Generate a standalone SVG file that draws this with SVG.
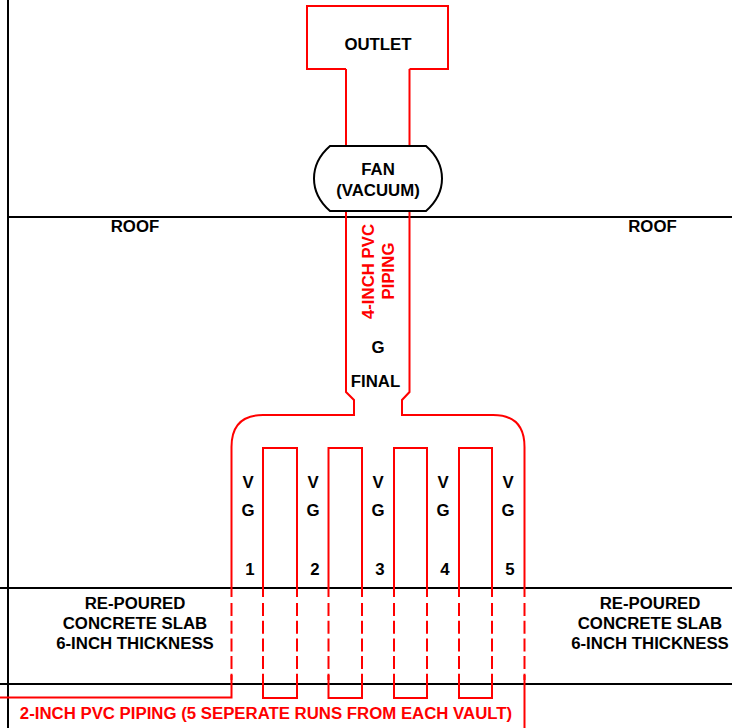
<svg xmlns="http://www.w3.org/2000/svg" width="732" height="728" viewBox="0 0 732 728">
<style>
.k{stroke:#000;stroke-width:2;fill:none}
.r{stroke:#f00;stroke-width:2;fill:none}
.d{stroke-dasharray:13 4.7}
text{font-family:"Liberation Sans",Arial,sans-serif;font-weight:700;font-size:16.8px;fill:#000;text-anchor:middle}
.t{fill:#f00}
</style>
<rect width="732" height="728" fill="#fff"/>
<g id="connectors">
<path class="k" d="M8 0V728M8 217H732M0 588H732M0 684H732"/>
<path class="r" d="M346 69V146M409.500 69V146M346 211V392L354 400V415H263Q231.500 415 231.500 447V597M409.500 211V392L402 400V415H493Q524.500 415 524.500 447V597"/>
<path class="r" d="M263 597V448H297V597M328.500 597V448H362V597M394 597V448H427V597M459 597V448H492V597"/>
<path class="r d" d="M231.500 603V680M263 603V680M297 603V680M328.500 603V680M362 603V680M394 603V680M427 603V680M459 603V680M492 603V680M524.500 603V680"/>
<path class="r" d="M0 697.500H231.500V675M263 675V698H297V675M328.500 675V698H362V675M394 675V698H427V675M459 675V698H492V675M524.500 675V728"/>
</g>
<g id="outlet">
<path class="r" d="M346 69H307V6H448V69H409.500"/>
<text x="378" y="50">OUTLET</text>
</g>
<g id="fan">
<path fill="#fff" stroke="#000" stroke-width="2" d="M330 146H426Q442 160 442 178.500Q442 197 426 211H330Q314 197 314 178.500Q314 160 330 146Z"/>
<text x="378" y="175">FAN</text>
<text x="378" y="195.500">(VACUUM)</text>
</g>
<g id="labels">
<text x="135" y="232">ROOF</text>
<text x="652.500" y="232">ROOF</text>
<text class="t" transform="translate(374 271.500) rotate(-90)">4-INCH PVC</text>
<text class="t" transform="translate(394 271) rotate(-90)">PIPING</text>
<text x="378" y="353">G</text>
<text x="375.500" y="386.500">FINAL</text>
<text x="135" y="609">RE-POURED</text>
<text x="135" y="629">CONCRETE SLAB</text>
<text x="135" y="649">6-INCH THICKNESS</text>
<text x="650" y="609">RE-POURED</text>
<text x="650" y="629">CONCRETE SLAB</text>
<text x="650" y="649">6-INCH THICKNESS</text>
<text class="t" x="266" y="718.500">2-INCH PVC PIPING (5 SEPERATE RUNS FROM EACH VAULT)</text>
</g>
<g id="vault1"><text x="248" y="487.500">V</text><text x="248" y="516">G</text><text x="250" y="575">1</text></g>
<g id="vault2"><text x="313" y="487.500">V</text><text x="313" y="516">G</text><text x="315" y="575">2</text></g>
<g id="vault3"><text x="378" y="487.500">V</text><text x="378" y="516">G</text><text x="380" y="575">3</text></g>
<g id="vault4"><text x="443" y="487.500">V</text><text x="443" y="516">G</text><text x="445" y="575">4</text></g>
<g id="vault5"><text x="508" y="487.500">V</text><text x="508" y="516">G</text><text x="510" y="575">5</text></g>
</svg>
